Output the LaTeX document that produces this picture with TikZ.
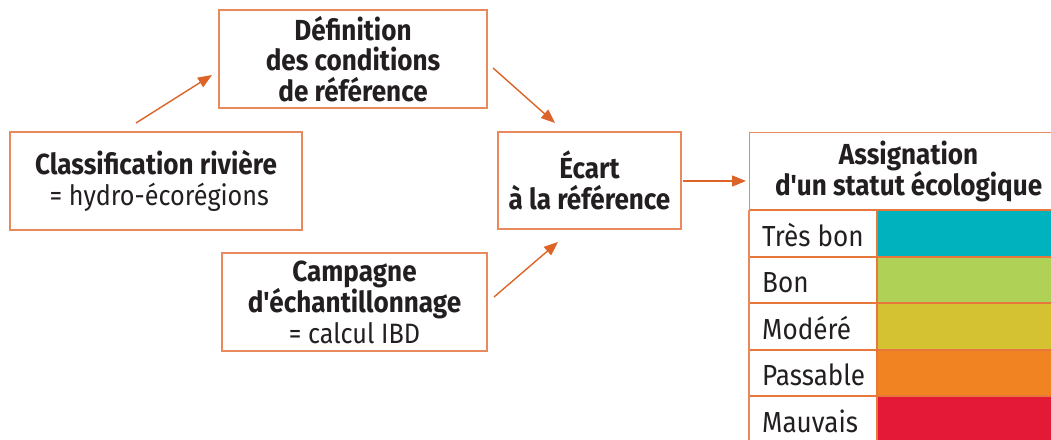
\documentclass[tikz,border=0pt]{standalone}
\usepackage{fontspec}
\setmainfont{Fira Sans}[FakeStretch=0.9, Ligatures=TeXOff]
\usetikzlibrary{arrows.meta}
\definecolor{boxline}{HTML}{E98A5E}
\definecolor{rowline}{HTML}{E8773C}
\definecolor{arr}{HTML}{DD6428}
\definecolor{txt}{HTML}{231F20}
\definecolor{c1}{HTML}{00B2BE}
\definecolor{c2}{HTML}{AFD256}
\definecolor{c3}{HTML}{D4C233}
\definecolor{c4}{HTML}{F28322}
\definecolor{c5}{HTML}{E31937}
\newcommand\rg{\fontsize{28}{30.5}\selectfont\mdseries}
\tikzset{
  box/.style={draw=boxline, line width=1.2pt, text=txt, align=center, inner sep=0pt,
    font=\fontsize{29}{30.5}\selectfont\bfseries},
  conn/.style={draw=arr, line width=1.4pt, -{Triangle[length=14pt,width=11pt]}},
  rowlab/.style={anchor=base west, text=txt, inner sep=0pt, font=\fontsize{29}{32}\selectfont},
}
\begin{document}
\begin{tikzpicture}[x=1pt,y=-1pt]
\useasboundingbox (0,0) rectangle (1051,439);
\clip (0,0) rectangle (1051,439);
\fill[white] (0,0) rectangle (1051,439);

\node[box, minimum width=268pt, minimum height=98pt] (def) at (353,59)
  {Définition\\des conditions\\de référence};
\node[box, minimum width=292pt, minimum height=98pt] (cls) at (156,181)
  {Classification rivière\\\rg\ = hydro-écorégions};
\node[box, minimum width=183pt, minimum height=97pt] (ecart) at (589.5,180.5)
  {Écart\\à la référence};
\node[box, minimum width=265pt, minimum height=98pt] (camp) at (354.5,302)
  {Campagne\\d'échantillonnage\\\rg = calcul IBD};

% table
\node[box, minimum width=318pt, minimum height=78pt, anchor=north west] (tab) at (749,132)
  {Assignation\\d'un statut écologique};
\fill[c1] (877,210) rectangle (1070,257);
\fill[c2] (877,257) rectangle (1070,303);
\fill[c3] (877,303) rectangle (1070,350);
\fill[c4] (877,350) rectangle (1070,396);
\fill[c5] (877,396) rectangle (1070,445);
\draw[rowline, line width=1.2pt] (749,210) -- (1070,210)
  (749,257) -- (1070,257) (749,303) -- (1070,303)
  (749,350) -- (1070,350) (749,396) -- (1070,396)
  (877,210) -- (877,445);
\draw[boxline, line width=1.2pt] (749,210) -- (749,445);
\node[rowlab] (r1) at (762,246) {Très bon};
\node[rowlab] (r2) at (762,292.5) {Bon};
\node[rowlab] (r3) at (762,339) {Modéré};
\node[rowlab] (r4) at (762,385.5) {Passable};
\node[rowlab] (r5) at (762,432) {Mauvais};

% connectors
\coordinate (a1s) at (136,123); \coordinate (a1e) at (212,75);
\coordinate (a2s) at (493,68);  \coordinate (a2e) at (555,123);
\coordinate (a3s) at (494,297); \coordinate (a3e) at (558,242);
\coordinate (a4s) at (683,181); \coordinate (a4e) at (746,181);
\draw[conn] (a1s) -- (a1e);
\draw[conn] (a2s) -- (a2e);
\draw[conn] (a3s) -- (a3e);
\draw[conn] (a4s) -- (a4e);
\end{tikzpicture}
\end{document}
